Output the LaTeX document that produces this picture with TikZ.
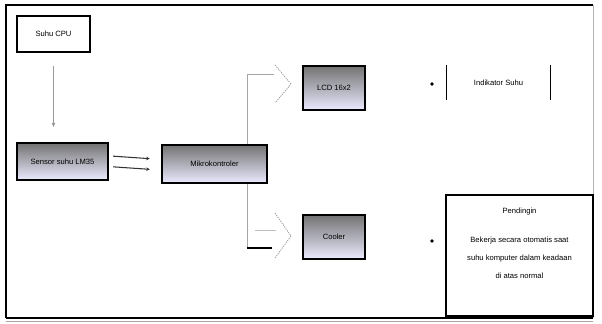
\documentclass[tikz,border=0pt]{standalone}
\usepackage{fontspec}
\setmainfont{Liberation Sans}
\usetikzlibrary{arrows.meta,positioning}
\begin{document}
\begin{tikzpicture}[x=0.03cm,y=-0.03cm,
  grad/.style={draw=black,line width=0.9pt,top color=black!55,bottom color=blue!8!white,font=\fontsize{6.5}{7}\selectfont,inner sep=1pt},
  plain/.style={draw=black,line width=0.9pt,fill=white,font=\fontsize{6.5}{7}\selectfont},
  thin/.style={draw=gray!70,line width=0.6pt},
  chev/.style={draw=gray!80,line width=0.6pt,dash pattern=on 1.2pt off 0.8pt},
  dot/.style={circle,fill=black,inner sep=0pt,minimum size=3.2pt}]
\useasboundingbox (0,0) rectangle (602,323);
% frame
\draw[gray!60,line width=0.6pt] (593,5) -- (593,318);
\draw[black,line width=2pt] (593,5) -- (6,5) -- (6,318);
\draw[black,line width=1pt] (6,318) -- (593,318);
\draw[gray!70,line width=0.5pt] (6,321) -- (593,321);
% nodes
\node[plain,minimum width=2.19cm,minimum height=1.08cm] (suhu) at (53.5,34) {Suhu CPU};
\node[grad,minimum width=2.73cm,minimum height=1.11cm] (sensor) at (62.5,161.5) {Sensor suhu LM35};
\node[grad,minimum width=3.15cm,minimum height=1.14cm] (mikro) at (214.5,164) {Mikrokontroler};
\node[grad,minimum width=1.86cm,minimum height=1.32cm] (lcd) at (334,88) {LCD 16x2};
\node[grad,minimum width=1.86cm,minimum height=1.32cm] (cooler) at (334,237) {Cooler};
\node[font=\fontsize{6.5}{7}\selectfont,minimum width=3.09cm,minimum height=1.05cm,inner sep=0pt] (ind) at (498.5,82.5) {Indikator Suhu};
\draw[black,line width=1pt] (ind.north west) -- (ind.south west);
\draw[black,line width=1pt] (ind.north east) -- (ind.south east);
\node[draw=black,line width=0.9pt,minimum width=4.41cm,minimum height=3.63cm,inner sep=0pt] (pend) at (519.5,255.5) {};
\node[font=\fontsize{6.5}{7}\selectfont,align=center,below=8pt of pend.north] (pendt) {Pendingin};
\node[font=\fontsize{6.5}{15}\selectfont,align=center,below=12pt of pendt] (pendb) {Bekerja secara otomatis saat\\suhu komputer dalam keadaan\\di atas normal};
\node[dot] (d1) at (432,84) {};
\node[dot] (d2) at (432,241) {};
% connectors
\draw[thin,-{Latex[length=4pt,width=3.5pt]},black!40,shorten <=13*0.03cm,shorten >=15*0.03cm] (suhu.south) -- (sensor.north -| suhu.south);
\draw[black!80,line width=0.9pt,-{Stealth[length=3pt,width=3pt]}] ([yshift=0.16cm,xshift=4pt]sensor.east) -- ([yshift=0.16cm,xshift=-10pt]mikro.west);
\draw[black!80,line width=0.9pt,-{Stealth[length=3pt,width=3pt]}] ([yshift=-0.16cm,xshift=4pt]sensor.east) -- ([yshift=-0.16cm,xshift=-10pt]mikro.west);
% to LCD
\coordinate (u1) at (247,74);
\coordinate (u2) at (274,74);
\draw[thin] (mikro.north -| u1) -- (u1) -- (u2);
\draw[chev] (275,65) -- (291,84) -- (275,103);
% to Cooler
\coordinate (l1) at (247,248);
\coordinate (l2) at (272,248);
\draw[thin] (mikro.south -| l1) -- (l1);
\draw[black,line width=1pt] (l1) -- (l2);
\draw[thin,gray!50] (255,230) -- (276,230);
\draw[chev] (275,213) -- (291,236) -- (275,258);
\end{tikzpicture}
\end{document}
